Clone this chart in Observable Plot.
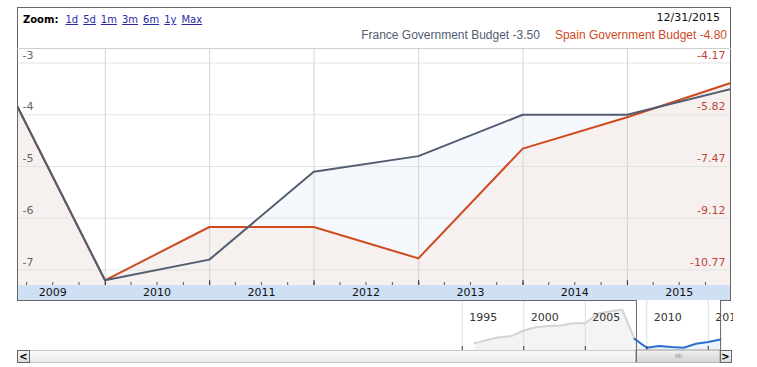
<!DOCTYPE html>
<html><head><meta charset="utf-8">
<script src="https://cdn.jsdelivr.net/npm/d3@7"></script>
<script src="https://cdn.jsdelivr.net/npm/@observablehq/plot@0.6"></script>
<style>
body{margin:0;background:#fff;}
#wrap{position:relative;width:757px;height:367px;overflow:hidden;font-family:"DejaVu Sans",Verdana,sans-serif;}
.abs{position:absolute;}
#wrap svg{max-width:none !important;}
#toolbar{left:23px;top:12px;height:16px;line-height:16px;font-size:10px;white-space:nowrap;}
#toolbar b{color:#000;margin-right:2px;}
#toolbar a{color:#2a2aa8;text-decoration:underline;margin-left:5px;}
#date{right:37px;top:10px;height:16px;line-height:16px;font-size:11px;color:#111;}
#legend{right:30px;top:27px;height:16px;line-height:16px;font-family:"Liberation Sans",Arial,sans-serif;font-size:12px;white-space:nowrap;}
#legend span{margin-left:15px;}
#frame{left:17px;top:7px;width:714px;height:293px;box-sizing:border-box;border:1px solid #666;border-bottom:none;}
#topline{left:17px;top:48px;width:714px;height:1px;background:#cfcfcf;}
#band{left:17px;top:285px;width:714px;height:15px;background:#cfe0f5;}
#track{left:17px;top:350px;width:715px;height:13px;box-sizing:border-box;border-top:1px solid #c8c8c8;border-bottom:1px solid #c8c8c8;background:linear-gradient(#fafafa,#e9e9e9);}
.btn{top:350px;width:13px;height:13px;box-sizing:border-box;border:1px solid #666;background:linear-gradient(#f4f4f4,#dcdcdc);font-size:10px;font-weight:bold;line-height:11px;text-align:center;color:#000;}
#navclip{left:0;top:300px;width:733px;height:63px;overflow:hidden;}
#main{left:0;top:0;}
</style></head><body>
<div id="wrap">
  <div class="abs" id="band"></div>
  <div class="abs" id="track"></div>
  <div class="abs btn" id="btnL" style="left:17px">&lt;</div>
  <div class="abs btn" id="btnR" style="left:719px">&gt;</div>
  <div class="abs" id="navclip"></div>
  <div class="abs" id="main"></div>
  <div class="abs" id="frame"></div>
  <div class="abs" id="topline"></div>
  <div class="abs" id="toolbar"></div>
  <div class="abs" id="date"></div>
  <div class="abs" id="legend"></div>
</div>
<script>
// ---------- data ----------
const years = [2008, 2009, 2010, 2011, 2012, 2013, 2014, 2015];
const france = [-3.2, -7.2, -6.8, -5.1, -4.8, -4.0, -4.0, -3.5];
const spain = [-4.5, -11.1, -9.4, -9.4, -10.4, -6.9, -5.9, -4.8];
const leftTicks = [-3, -4, -5, -6, -7];
const rightTicks = [-4.17, -5.82, -7.47, -9.12, -10.77];
const yearLabels = [2009, 2010, 2011, 2012, 2013, 2014, 2015];
const seriesNames = ["France Government Budget", "Spain Government Budget"];
const lastValues = [-3.50, -4.80];
const lastDateLabel = "12/31/2015";
const zoomButtons = ["1d", "5d", "1m", "3m", "6m", "1y", "Max"];
// navigator (overview) series, read from the small strip, arbitrary index units
const navYears = [1995,1996,1997,1998,1999,2000,2001,2002,2003,2004,2005,2006,2007,2008,2009,2010,2011,2012,2013,2014,2015];
const navValues = [1.8,2.6,3.3,3.6,5.0,5.8,6.1,6.25,6.8,6.8,9.2,9.75,10.25,2.9,0.7,1.1,0.85,0.7,1.7,2.1,2.75];
const navTickYears = [1995, 2000, 2005, 2010, 2015];

// ---------- colours ----------
const franceColor = "#525d72";
const spainColor = "#cf4a1f";
const rightAxisColor = "#b94a3a";

// ---------- derived ----------
const dec31 = y => new Date(Date.UTC(y, 11, 31));
const toLeft = s => leftTicks[0] + (s - rightTicks[0]) * (leftTicks[4] - leftTicks[0]) / (rightTicks[4] - rightTicks[0]);
const franceRows = years.map((y, i) => ({date: dec31(y), value: france[i]}));
const spainRows = years.map((y, i) => ({date: dec31(y), value: toLeft(spain[i])}));
const rightMap = new Map(leftTicks.map((t, i) => [t, rightTicks[i].toFixed(2)]));

const xDomain = [new Date(Date.UTC(2009, 1, 28)), dec31(2015)];
const yDomain = [-7.30, -2.72];
const yearStarts = d3.utcYear.range(xDomain[0], xDomain[1]);
const quarterStarts = d3.utcMonth.every(3).range(xDomain[0], xDomain[1]);
const yearMids = yearLabels.map(y => new Date(Date.UTC(y, 6, 1)));
const fmtY = d3.utcFormat("%Y");
const font = "'DejaVu Sans', Verdana, sans-serif";

const main = Plot.plot({
  width: 757, height: 300,
  marginTop: 48, marginBottom: 15, marginLeft: 17, marginRight: 26,
  style: {fontFamily: font, fontSize: "11px", background: "transparent", overflow: "visible"},
  x: {type: "utc", domain: xDomain, label: null},
  y: {domain: yDomain, label: null},
  marks: [
    Plot.areaY(franceRows, {x: "date", y1: () => yDomain[0], y2: "value", fill: "#f5f8fc", clip: true}),
    Plot.areaY(spainRows, {x: "date", y1: () => yDomain[0], y2: "value", fill: "#f6f0ef", clip: true}),
    Plot.gridY(leftTicks, {stroke: "#e2e2e2", strokeOpacity: 1}),
    Plot.gridX(yearStarts, {stroke: "#d4d4d4", strokeOpacity: 1}),
    Plot.axisY(leftTicks, {anchor: "left", tickSize: 0, tickPadding: 0, textAnchor: "start", dx: 5, dy: -8,
      fill: "#666", fontSize: 11, tickFormat: d => String(d)}),
    Plot.axisY(leftTicks, {anchor: "right", tickSize: 0, tickPadding: 0, textAnchor: "end", dx: -6, dy: -8,
      fill: rightAxisColor, fontSize: 11, tickFormat: d => rightMap.get(d)}),
    Plot.axisX(quarterStarts, {anchor: "bottom", tickSize: -3, tickFormat: () => "", stroke: "#555"}),
    Plot.axisX(yearStarts, {anchor: "bottom", tickSize: -5, tickFormat: () => "", stroke: "#333"}),
    Plot.axisX(yearMids, {anchor: "bottom", tickSize: 0, tickPadding: 3, fill: "#111", fontSize: 11, tickFormat: d => fmtY(d)}),
    Plot.line(spainRows, {x: "date", y: "value", stroke: spainColor, strokeWidth: 2, strokeLinejoin: "round", clip: true}),
    Plot.line(franceRows, {x: "date", y: "value", stroke: franceColor, strokeWidth: 2, strokeLinejoin: "round", clip: true})
  ]
});
document.getElementById("main").appendChild(main);

// ---------- navigator ----------
const navDomain = [new Date(Date.UTC(1958, 10, 6)), new Date(Date.UTC(2016, 10, 20))];
const navYDomain = [0, 12.5];
const navRows = navYears.map((y, i) => ({date: dec31(y), value: navValues[i]}));
const navOut = navRows.filter(d => d.date <= xDomain[0]);
const navIn = navRows.filter(d => d.date >= dec31(2008));
const windowRange = [{x1: xDomain[0], x2: xDomain[1]}];
const windowMid = new Date((+xDomain[0] + +xDomain[1]) / 2);
const navTicks = navTickYears.map(y => ({date: new Date(Date.UTC(y, 0, 1)), label: String(y)}));

const nav = Plot.plot({
  width: 757, height: 63,
  marginTop: 0, marginBottom: 13, marginLeft: 17, marginRight: 26,
  style: {fontFamily: font, fontSize: "11px", background: "transparent", overflow: "visible"},
  x: {type: "utc", domain: navDomain, label: null, axis: null},
  y: {domain: navYDomain, label: null, axis: null},
  marks: [
    Plot.areaY(navOut, {x: "date", y: "value", fill: "#f4f4f4"}),
    Plot.areaY(navIn, {x: "date", y: "value", fill: "#eef4fb"}),
    Plot.gridX(navTicks.map(d => d.date), {stroke: "#dcdcdc", strokeOpacity: 1}),
    Plot.line(navOut, {x: "date", y: "value", stroke: "#d4d4d4", strokeWidth: 2}),
    Plot.line(navIn, {x: "date", y: "value", stroke: "#2d6fd0", strokeWidth: 2}),
    Plot.axisX(navTicks.map(d => d.date), {anchor: "bottom", tickSize: -4, tickFormat: () => "", stroke: "#333"}),
    Plot.text(navTicks, {x: "date", text: "label", frameAnchor: "top", dy: 13, dx: 7, textAnchor: "start", fill: "#333", fontSize: 11}),
    Plot.rect(windowRange, {x1: "x1", x2: "x2", insetTop: 50, insetBottom: -13, fill: "url(#thumbGrad)", stroke: "#999"}),
    Plot.text([windowMid], {x: d => d, text: () => "IIII", frameAnchor: "bottom", dy: 7, fill: "#8a8a8a", fontSize: 6}),
    Plot.ruleX([xDomain[0], xDomain[1]], {stroke: "#666", insetBottom: -12}),
    Plot.ruleY([navYDomain[1]], {x1: () => navDomain[0], x2: () => xDomain[0], stroke: "#666"}),
    Plot.ruleY([navYDomain[1]], {x1: () => xDomain[1], x2: () => navDomain[1], stroke: "#666"})
  ]
});
const ns = "http://www.w3.org/2000/svg";
const defs = document.createElementNS(ns, "defs");
defs.innerHTML = '<linearGradient id="thumbGrad" x1="0" y1="0" x2="0" y2="1"><stop offset="0" stop-color="#f2f2f2"/><stop offset="1" stop-color="#d2d2d2"/></linearGradient>';
nav.insertBefore(defs, nav.firstChild);
document.getElementById("navclip").appendChild(nav);

// ---------- texts ----------
const tb = document.getElementById("toolbar");
tb.innerHTML = "<b>Zoom:</b>" + zoomButtons.map(z => `<a>${z}</a>`).join("");
document.getElementById("date").textContent = lastDateLabel;
const lg = document.getElementById("legend");
[franceColor, spainColor].forEach((c, i) => {
  const s = document.createElement("span");
  s.style.color = c;
  s.textContent = `${seriesNames[i]} ${lastValues[i].toFixed(2)}`;
  lg.appendChild(s);
});
</script>
</body></html>
